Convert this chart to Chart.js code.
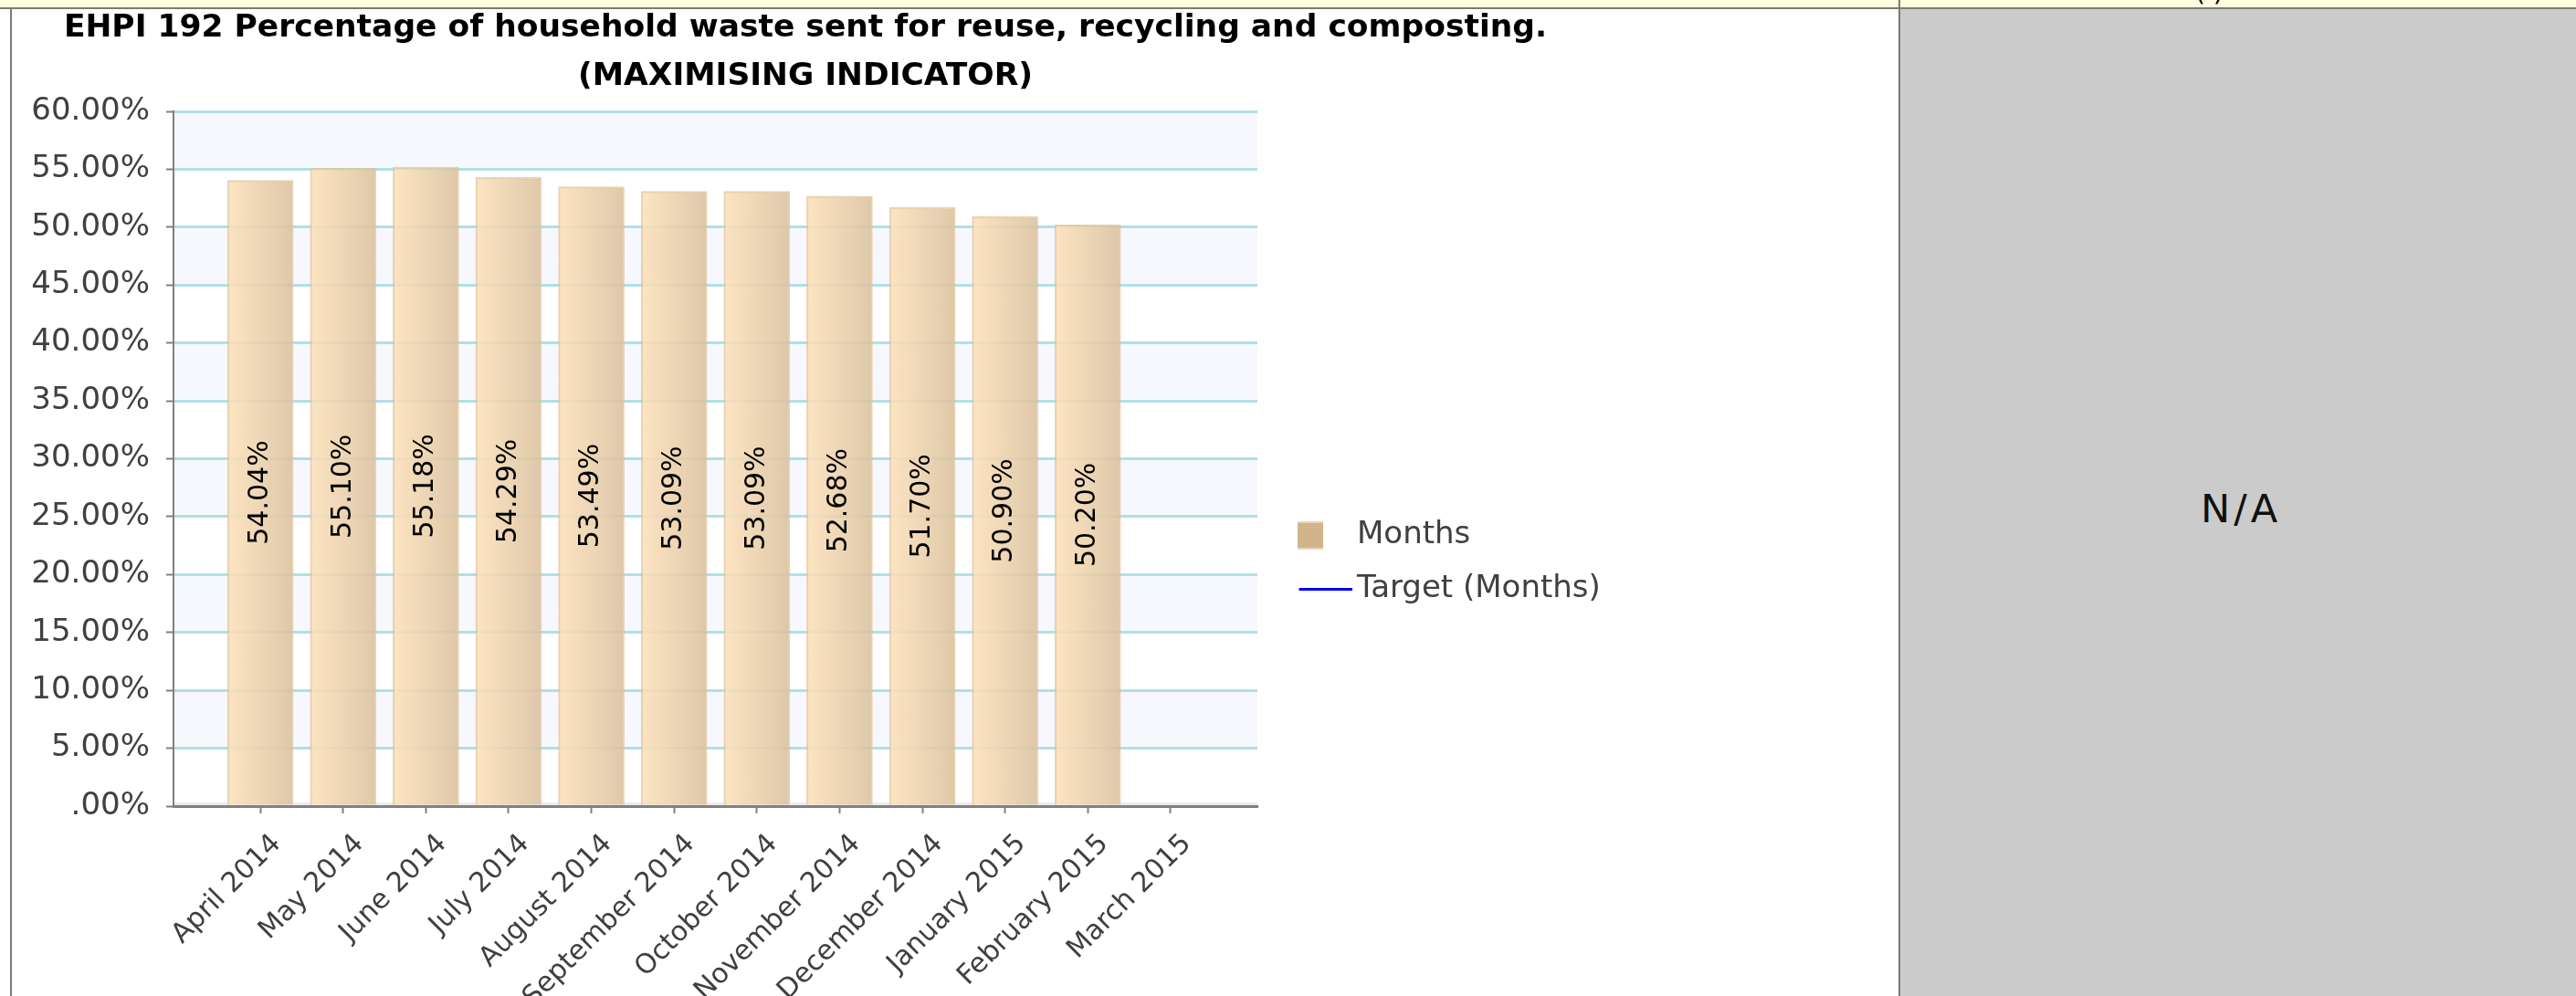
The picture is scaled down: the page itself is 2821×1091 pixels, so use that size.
<!DOCTYPE html>
<html>
<head>
<meta charset="utf-8">
<title>EHPI 192</title>
<script src="https://cdn.jsdelivr.net/npm/chart.js@4.4.1/dist/chart.umd.min.js"></script>
<style>
  html, body { margin: 0; padding: 0; }
  body { width: 2821px; height: 1091px; overflow: hidden; background: #fff; position: relative; font-family: "DejaVu Sans", sans-serif; }
  #topband { position: absolute; left: 0; top: 0; width: 2821px; height: 8px; background: #ffffe0; overflow: hidden; z-index: 2; }
  #topband span { position: absolute; left: 2404px; top: -25px; font-size: 28px; color: #000; }
  #topline { position: absolute; left: 0; top: 8px; width: 2821px; height: 2px; background: #7b7b70; z-index: 2; }
  #leftline { position: absolute; left: 11px; top: 8px; width: 2px; height: 1083px; background: #7b7b70; z-index: 2; }
  #divider { position: absolute; left: 2079px; top: 0; width: 2px; height: 1091px; background: #7b7b70; z-index: 3; }
  #napanel { position: absolute; left: 2081px; top: 10px; width: 740px; height: 1081px; background: #cbcbcb; }
  #na { position: absolute; left: 2410px; top: 532px; font-family: "DejaVu Sans ExtraLight", "DejaVu Sans", sans-serif; font-size: 43px; line-height: 50px; letter-spacing: 4px; color: #111; }
  #chart { position: absolute; left: 0; top: 0; z-index: 1; }
</style>
</head>
<body>
<div id="topband"><span>( )</span></div>
<div id="topline"></div>
<div id="leftline"></div>
<div id="divider"></div>
<div id="napanel"></div>
<div id="na">N/A</div>
<canvas id="chart" width="1764" height="1232"></canvas>
<script>
// valeurs
const months = ['April 2014', 'May 2014', 'June 2014', 'July 2014', 'August 2014', 'September 2014',
  'October 2014', 'November 2014', 'December 2014', 'January 2015', 'February 2015', 'March 2015'];
const recyclingRate = [54.04, 55.10, 55.18, 54.29, 53.49, 53.09, 53.09, 52.68, 51.70, 50.90, 50.20, null];
const targetRate = [null, null, null, null, null, null, null, null, null, null, null, null];
const titleLines = ['EHPI 192 Percentage of household waste sent for reuse, recycling and composting.', '(MAXIMISING INDICATOR)'];
const yMin = 0, yMax = 60, yStep = 5;

const FONT = '"DejaVu Sans", sans-serif';

function pct(v) {
  return v.toFixed(2).replace(/^0(?=\.)/, '') + '%';
}

// petites vignettes pour la légende
function swatch(w, h, draw) {
  const c = document.createElement('canvas');
  c.width = w; c.height = h;
  draw(c.getContext('2d'));
  return c;
}
const legendSwatches = [
  swatch(29, 31, g => { g.fillStyle = '#e9d6bb'; g.fillRect(0, 0, 28, 31); g.fillStyle = '#d2b48c'; g.fillRect(0, 2, 28, 27); }),
  swatch(90, 3, g => { g.fillStyle = '#0000ff'; g.fillRect(32, 0, 58, 3); })
];

// bandes alternées + sol gris du fond de graphique
const plotBands = {
  id: 'plotBands',
  beforeDraw(chart) {
    const {ctx, chartArea: a, scales: {y}} = chart;
    const t = y.ticks;
    ctx.save();
    ctx.fillStyle = '#f7f8fe';
    for (let i = 1; i + 1 < t.length; i += 2) {
      const top = y.getPixelForValue(t[i + 1].value);
      const bot = y.getPixelForValue(t[i].value);
      ctx.fillRect(a.left, top, a.right - a.left, bot - top);
    }
    ctx.fillStyle = '#ececec';
    ctx.fillRect(a.left, a.bottom - 4, a.right - a.left, 4);
    ctx.restore();
  }
};

// valeurs écrites verticalement dans les barres
const barValueLabels = {
  id: 'barValueLabels',
  afterDatasetsDraw(chart) {
    const ctx = chart.ctx;
    const meta = chart.getDatasetMeta(0);
    ctx.save();
    ctx.font = '30px ' + FONT;
    ctx.fillStyle = '#000';
    ctx.textAlign = 'center';
    ctx.textBaseline = 'middle';
    meta.data.forEach((bar, i) => {
      const v = recyclingRate[i];
      if (v == null) return;
      ctx.save();
      ctx.translate(bar.x, (bar.y + bar.base) / 2);
      ctx.rotate(-Math.PI / 2);
      ctx.fillText(pct(v), 0, 0);
      ctx.restore();
    });
    ctx.restore();
  }
};

// largeur fixe pour la légende à droite
const legendWidth = {
  id: 'legendWidth',
  afterInit(chart) {
    const fit = chart.legend.fit;
    chart.legend.fit = function () { fit.call(this); this.width = 387; };
  }
};

function barFill(c) {
  const x = c.chart.scales.x;
  if (!x || c.type !== 'data') return '#ead2b0';
  const cx = x.getPixelForValue(c.dataIndex);
  const g = c.chart.ctx.createLinearGradient(cx - 36, 0, cx + 36, 0);
  g.addColorStop(0, 'rgba(253,225,186,0.88)');
  g.addColorStop(1, 'rgba(218,193,157,0.88)');
  return g;
}

new Chart(document.getElementById('chart'), {
  type: 'bar',
  data: {
    datasets: [{
      type: 'bar',
      label: 'Months',
      data: months.map((m, i) => ({x: i, y: recyclingRate[i]})),
      backgroundColor: barFill,
      borderColor: 'rgba(222,192,148,0.7)',
      borderWidth: 2,
      barThickness: 72
    }, {
      type: 'line',
      label: 'Target (Months)',
      data: months.map((m, i) => ({x: i, y: targetRate[i]})),
      borderColor: '#0000ff',
      borderWidth: 3,
      pointRadius: 0
    }]
  },
  options: {
    responsive: false,
    animation: false,
    devicePixelRatio: 1,
    layout: {padding: 0},
    plugins: {
      title: {
        display: true,
        text: titleLines,
        color: '#000',
        font: {family: FONT, size: 34.5, weight: 'bold', lineHeight: '53px'},
        padding: {top: 5, bottom: 11}
      },
      legend: {
        position: 'right',
        align: 'center',
        labels: {
          usePointStyle: true,
          pointStyleWidth: 67,
          padding: 25,
          color: '#404040',
          font: {family: FONT, size: 34},
          generateLabels: chart => chart.data.datasets.map((ds, i) => ({
            text: ds.label,
            pointStyle: legendSwatches[i],
            datasetIndex: i,
            hidden: false,
            lineWidth: 0,
            strokeStyle: 'rgba(0,0,0,0)',
            fillStyle: 'rgba(0,0,0,0)',
            fontColor: '#404040'
          }))
        }
      },
      tooltip: {enabled: false}
    },
    scales: {
      x: {
        type: 'linear',
        min: -1.05,
        max: 12.05,
        offset: false,
        afterBuildTicks: s => { s.ticks = months.map((m, i) => ({value: i})); },
        afterFit: s => { s.height = 349; },
        grid: {drawOnChartArea: false, offset: false, tickLength: 8, tickColor: '#808080', tickWidth: 2},
        border: {color: '#808080', width: 3},
        ticks: {
          autoSkip: false,
          minRotation: 45,
          maxRotation: 45,
          padding: 16,
          labelOffset: 18,
          color: '#404040',
          font: {family: FONT, size: 30},
          callback: v => months[v] ?? ''
        }
      },
      y: {
        min: yMin,
        max: yMax,
        afterFit: s => { s.width = 190; },
        grid: {color: '#b0e0e6', lineWidth: 3, tickLength: 8, tickColor: '#808080', tickWidth: 2},
        border: {color: '#808080', width: 2},
        ticks: {
          stepSize: yStep,
          padding: 18,
          color: '#404040',
          font: {family: FONT, size: 34},
          callback: v => pct(v)
        }
      }
    }
  },
  plugins: [plotBands, barValueLabels, legendWidth]
});
</script>
</body>
</html>
